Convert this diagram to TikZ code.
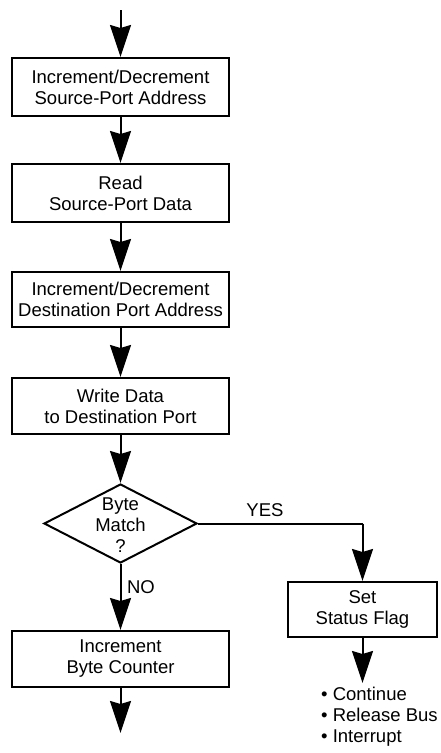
\documentclass[tikz,border=0pt]{standalone}
\usepackage{fontspec}
\setmainfont{Liberation Sans}
\usetikzlibrary{arrows.meta,shapes.geometric}
\begin{document}
\begin{tikzpicture}[x=1pt,y=-1pt,
  every node/.style={font=\fontsize{18.5}{21}\selectfont},
  procbox/.style={draw,line width=2pt,minimum width=217pt,minimum height=56pt,align=center,inner sep=0pt},
  decbox/.style={draw,diamond,line width=2pt,minimum width=153pt,minimum height=79pt,aspect=1.94,align=center,inner sep=0pt},
  flow/.style={line width=2pt,-{Stealth[length=32pt,width=21pt,inset=3pt]}},
  plain/.style={line width=2pt}]
\useasboundingbox (0,0) rectangle (440,753);
\coordinate (start) at (120.5,10);
\node[procbox,minimum height=58pt] (b1) at (120.5,87) {Increment/Decrement\\Source-Port Address};
\node[procbox,minimum height=58pt] (b2) at (120.5,193) {Read\\Source-Port Data};
\node[procbox,minimum height=55pt] (b3) at (120.5,299.5) {Increment/Decrement\\Destination Port Address};
\node[procbox] (b4) at (120.5,406) {Write Data\\to Destination Port};
\node[draw,line width=2pt,shape=diamond,minimum width=153pt,minimum height=79pt,inner sep=0pt] (dec) at (120.5,523.5) {};
\node[align=center,font=\fontsize{18.5}{21}\selectfont] (dectext) at (120.5,525) {Byte\\Match\\?};
\node[procbox] (b5) at (120.5,659) {Increment\\Byte Counter};
\coordinate (end) at (120.5,733);
\node[draw,line width=2pt,minimum width=149pt,minimum height=55pt,align=center,inner sep=0pt] (flag) at (362.5,609.5) {Set\\Status Flag};
\coordinate (corner) at (362.5,523.5);
\coordinate (flagend) at (362.5,683);
\node[anchor=north west,align=left,inner sep=0pt] (list) at (321,687) {\textbullet\ Continue\\\textbullet\ Release Bus\\\textbullet\ Interrupt};
\node (yes) at (265,510) {YES};
\node (no) at (141,587) {NO};
\draw[flow] (start) -- (b1.north);
\draw[flow] (b1) -- (b2);
\draw[flow] (b2) -- (b3);
\draw[flow] (b3) -- (b4);
\draw[flow] (b4) -- (dec.north);
\draw[flow] (dec.south) -- (b5.north);
\draw[flow] (b5.south) -- (end);
\draw[plain] (dec.east) -- (corner);
\draw[flow] (corner) -- (flag.north);
\draw[flow] (flag.south) -- (flagend);
\end{tikzpicture}
\end{document}
